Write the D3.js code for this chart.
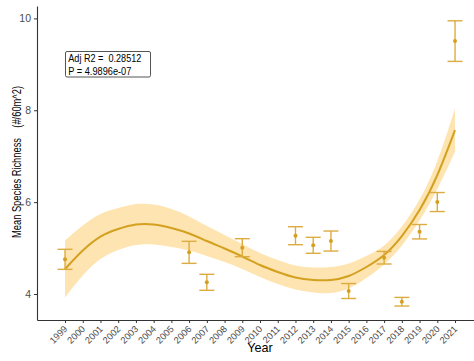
<!DOCTYPE html>
<html>
<head>
<meta charset="utf-8">
<script src="https://cdn.jsdelivr.net/npm/d3@7"></script>
<style>
  html, body { margin: 0; padding: 0; background: #fff; }
  svg { display: block; font-family: "Liberation Sans", Arial, sans-serif; }
</style>
</head>
<body>
<svg id="chart" width="474" height="361"></svg>
<script>
// Survey years that have a mean richness value, with mean and error half-width
const surveyYears = [1999, 2006, 2007, 2009, 2012, 2013, 2014, 2015, 2017, 2018, 2019, 2020, 2021];
const meanRichness = [4.755, 4.907, 4.255, 5.008, 5.269, 5.06, 5.153, 4.065, 4.79, 3.832, 5.356, 6.002, 9.506];
const errorHalf = [0.218, 0.24, 0.174, 0.196, 0.196, 0.174, 0.218, 0.163, 0.137, 0.094, 0.157, 0.207, 0.442];

// Cubic trend with its confidence band, one value per year
const fitYears = d3.range(1999, 2022);
const fitValues = [4.544, 4.947, 5.251, 5.415, 5.513, 5.513, 5.436, 5.317, 5.153, 4.990, 4.816, 4.631,
                   4.479, 4.359, 4.305, 4.305, 4.392, 4.588, 4.849, 5.262, 5.828, 6.590, 7.569];
const fitLower = [3.924, 4.403, 4.761, 4.958, 5.067, 5.078, 5.023, 4.947, 4.827, 4.696, 4.544, 4.370,
                  4.218, 4.098, 4.033, 4.022, 4.120, 4.349, 4.642, 5.055, 5.599, 6.285, 7.101];
const fitUpper = [5.164, 5.491, 5.741, 5.872, 5.959, 5.948, 5.849, 5.687, 5.479, 5.284, 5.088, 4.892,
                  4.740, 4.620, 4.577, 4.588, 4.664, 4.827, 5.056, 5.469, 6.057, 6.895, 8.037];

// Axis ticks and annotation text
const yTicks = [4, 6, 8, 10];
const xTicks = d3.range(1999, 2022);
const statLines = ["Adj R2 =  0.28512", "P = 4.9896e-07"];

const svg = d3.select("#chart");
const plotLeft = 37, plotRight = 474, plotTop = 6, plotBottom = 320;

const x = d3.scaleLinear().domain([1997.42, 2022.07]).range([plotLeft, plotRight]);
const y = d3.scaleLinear().domain([3.434, 10.27]).range([plotBottom, plotTop]);

const gold = "#D4A020";
const goldLight = "#DDAC40";
const bandFill = "#FEE4B0";

// confidence band
const band = fitYears.map((yr, i) => ({ yr, lo: fitLower[i], hi: fitUpper[i], v: fitValues[i] }));
svg.append("path")
  .datum(band)
  .attr("fill", bandFill)
  .attr("d", d3.area().x(d => x(d.yr)).y0(d => y(d.lo)).y1(d => y(d.hi)).curve(d3.curveNatural));

// fitted curve
svg.append("path")
  .datum(band)
  .attr("fill", "none")
  .attr("stroke", gold)
  .attr("stroke-width", 2)
  .attr("d", d3.line().x(d => x(d.yr)).y(d => y(d.v)).curve(d3.curveNatural));

// error bars and means
const pts = surveyYears.map((yr, i) => ({ yr, m: meanRichness[i], e: errorHalf[i] }));
const capW = 7.5;
const eb = svg.append("g").attr("stroke", goldLight).attr("stroke-width", 1.4).attr("fill", "none");
pts.forEach(d => {
  const cx = x(d.yr), y1 = y(d.m + d.e), y2 = y(d.m - d.e);
  eb.append("line").attr("x1", cx).attr("x2", cx).attr("y1", y1).attr("y2", y2);
  eb.append("line").attr("x1", cx - capW).attr("x2", cx + capW).attr("y1", y1).attr("y2", y1);
  eb.append("line").attr("x1", cx - capW).attr("x2", cx + capW).attr("y1", y2).attr("y2", y2);
});
svg.append("g").selectAll("circle").data(pts).join("circle")
  .attr("cx", d => x(d.yr)).attr("cy", d => y(d.m)).attr("r", 2).attr("fill", gold);

// y axis
const yAxis = svg.append("g").attr("transform", `translate(${plotLeft},0)`)
  .call(d3.axisLeft(y).tickValues(yTicks).tickFormat(d3.format("d")).tickSize(3).tickPadding(3).tickSizeOuter(0));
yAxis.select(".domain").attr("stroke", "#333").attr("stroke-width", 1.1);
yAxis.selectAll(".tick line").attr("stroke", "#333");
yAxis.selectAll(".tick text").attr("fill", "#4D4D4D").style("font-size", "10.5px");

// x axis
const xAxis = svg.append("g").attr("transform", `translate(0,${plotBottom})`)
  .call(d3.axisBottom(x).tickValues(xTicks).tickFormat(d3.format("d")).tickSize(3).tickSizeOuter(0));
xAxis.select(".domain").attr("stroke", "#333").attr("stroke-width", 1.1);
xAxis.selectAll(".tick line").attr("stroke", "#333");
xAxis.selectAll(".tick text")
  .attr("fill", "#4D4D4D").style("font-size", "9.3px")
  .attr("text-anchor", "end")
  .attr("dy", null)
  .attr("y", 0)
  .attr("transform", "translate(2.5,9.5) rotate(-45)");

// axis titles
svg.append("text").attr("x", 260).attr("y", 352).attr("text-anchor", "middle")
  .attr("textLength", 25.5).attr("lengthAdjust", "spacingAndGlyphs")
  .style("font-size", "13.5px").attr("fill", "#000").text("Year");
svg.append("text")
  .attr("transform", "translate(20.5,162) rotate(-90)")
  .attr("text-anchor", "middle")
  .attr("textLength", 152).attr("lengthAdjust", "spacingAndGlyphs")
  .style("font-size", "12.5px").style("white-space", "pre").attr("fill", "#000")
  .text("Mean Species Richness    (#/60m^2)");

// model statistics box
const box = svg.append("g");
box.append("rect").attr("x", 65.5).attr("y", 51.5).attr("width", 85).attr("height", 25.5)
  .attr("rx", 1.5).attr("fill", "#fff").attr("stroke", "#555").attr("stroke-width", 1);
box.selectAll("text").data(statLines).join("text")
  .attr("x", 68.3).attr("y", (d, i) => 61.5 + i * 13)
  .attr("textLength", (d, i) => i === 0 ? 73 : 63).attr("lengthAdjust", "spacingAndGlyphs")
  .style("font-size", "10px").style("white-space", "pre").attr("fill", "#000")
  .text(d => d);
</script>
</body>
</html>
